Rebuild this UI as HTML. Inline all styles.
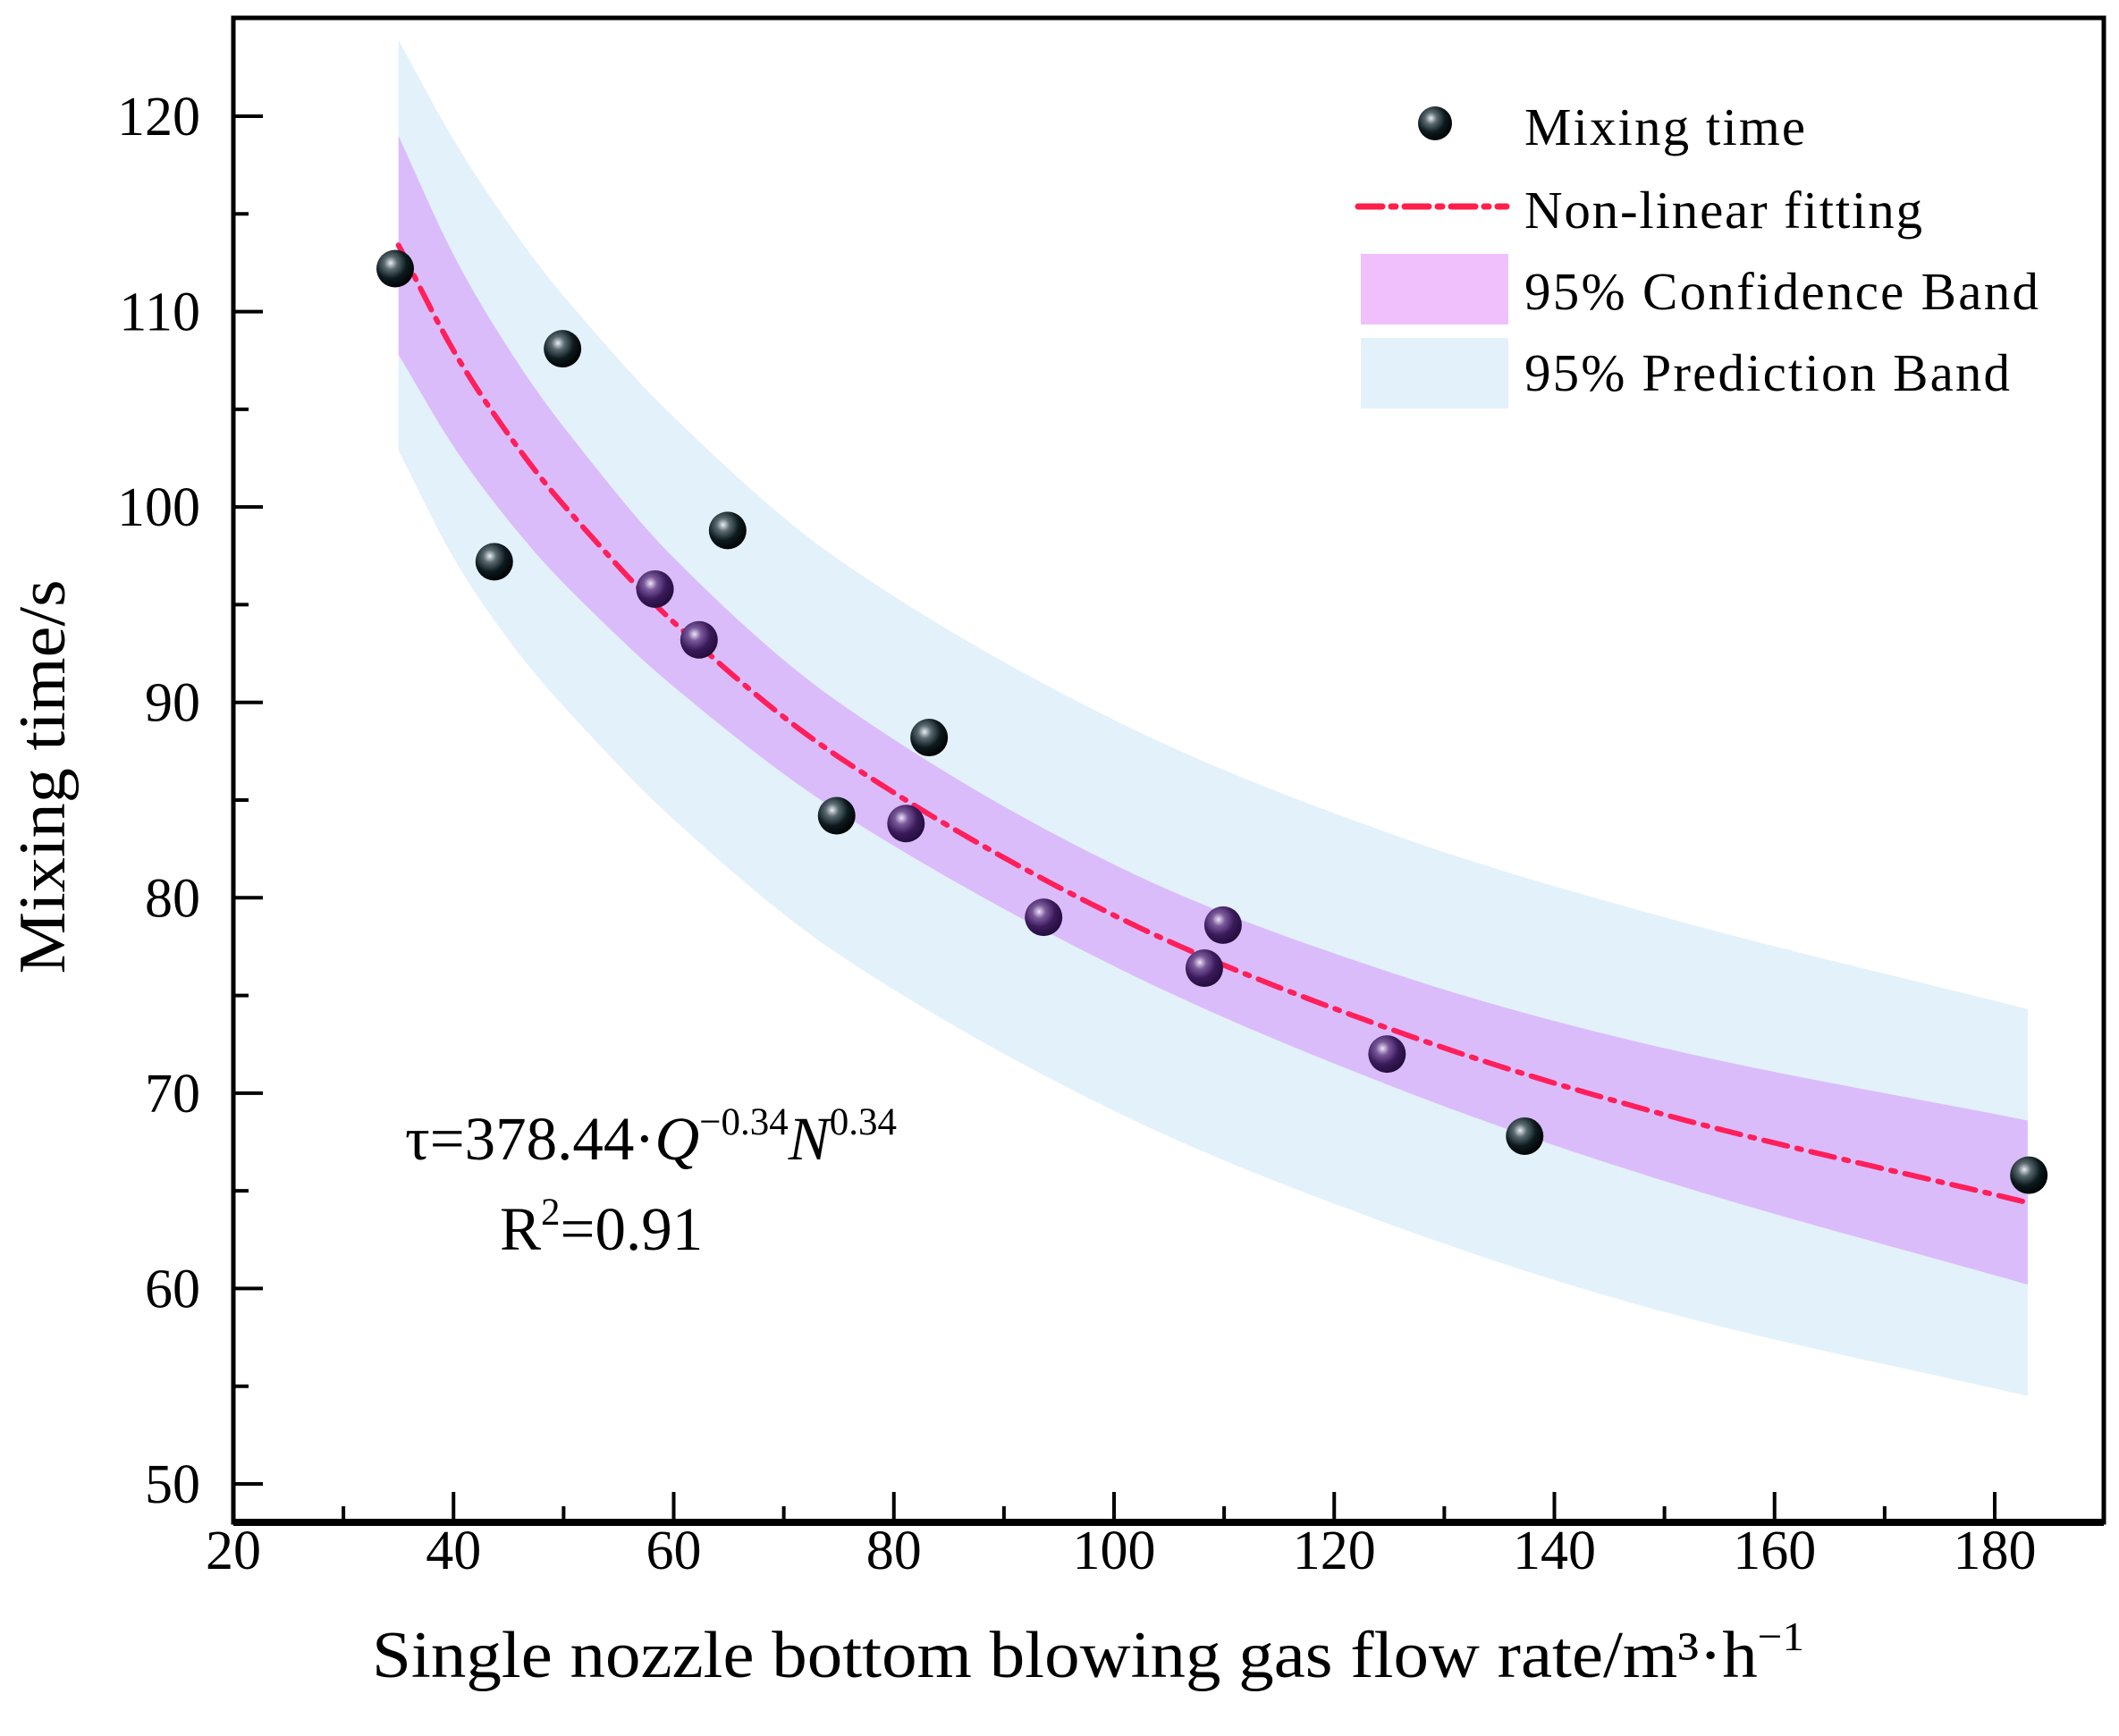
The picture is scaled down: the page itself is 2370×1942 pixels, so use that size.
<!DOCTYPE html>
<html><head><meta charset="utf-8"><style>
html,body{margin:0;padding:0;background:#fff;}
svg{display:block;font-family:"Liberation Serif",serif;}
</style></head><body>
<svg id="chart" width="2370" height="1942" viewBox="0 0 2370 1942" xmlns="http://www.w3.org/2000/svg">
<defs>
<radialGradient id="gBlack" cx="0.38" cy="0.35" r="0.7">
<stop offset="0" stop-color="#e8eef0"/><stop offset="0.25" stop-color="#5a6a70"/><stop offset="0.6" stop-color="#0c1a1e"/><stop offset="1" stop-color="#000"/>
</radialGradient>
<radialGradient id="gPurple" cx="0.38" cy="0.35" r="0.7">
<stop offset="0" stop-color="#eee4f8"/><stop offset="0.25" stop-color="#7a5a9a"/><stop offset="0.6" stop-color="#3a1a5a"/><stop offset="1" stop-color="#200c38"/>
</radialGradient>
</defs>
<g id="bands"></g>
<g id="fitg"></g>
<g id="points"></g>
<g id="axes"></g>
<g id="legend">
<circle cx="1605" cy="138" r="19" fill="url(#gBlack)"/>
<text x="1705" y="162" font-size="59" textLength="314">Mixing time</text>
<line x1="1519" y1="231" x2="1685" y2="231" stroke="#ff1f4a" stroke-width="7" stroke-dasharray="27,10,5,10" stroke-linecap="round"/>
<text x="1705" y="255" font-size="59" textLength="445">Non-linear fitting</text>
<rect x="1522" y="284" width="165" height="79" fill="#f0c0fc"/>
<text x="1705" y="346" font-size="59" textLength="575">95% Confidence Band</text>
<rect x="1522" y="378" width="165" height="79" fill="#e3f1fb"/>
<text x="1705" y="437" font-size="59" textLength="543">95% Prediction Band</text>
</g>
<text x="453" y="1297" font-size="69">τ=378.44·<tspan font-style="italic">Q</tspan><tspan font-size="43" dy="-28">−0.34</tspan><tspan font-style="italic" dy="28">N</tspan><tspan font-size="43" dy="-28">0.34</tspan></text>
<text x="559" y="1398" font-size="69">R<tspan font-size="43" dy="-28">2</tspan><tspan dy="28">=0.91</tspan></text>
<text x="0" y="0" font-size="74" textLength="441" lengthAdjust="spacingAndGlyphs" transform="translate(72,869) rotate(-90)" text-anchor="middle">Mixing time/s</text>
<text x="416" y="1876" font-size="74" textLength="1602" lengthAdjust="spacingAndGlyphs">Single nozzle bottom blowing gas flow rate/m³·h<tspan font-size="46" dy="-30">−1</tspan></text>
</svg>
<script>
const flowRates = [34.7, 43.7, 49.9, 58.3, 62.3, 64.9, 74.8, 81.1, 83.2, 93.6, 108.2, 109.9, 124.8, 137.3, 183.1];
const mixingTimes = [112.2, 97.2, 108.1, 95.8, 93.2, 98.8, 84.2, 83.8, 88.2, 79.0, 76.4, 78.6, 72.0, 67.8, 65.8];
const bandX = [35, 40, 45, 50, 60, 75, 100, 125, 150, 183];
const fitValues = [113.4, 108.0, 103.7, 100.1, 94.1, 87.2, 79.1, 73.3, 68.9, 64.4];
const confUpper = [119.0, 112.9, 108.1, 104.1, 97.4, 90.0, 81.7, 76.2, 72.3, 68.6];
const confLower = [107.8, 103.1, 99.3, 96.1, 90.8, 84.4, 76.5, 70.4, 65.5, 60.2];
const predUpper = [123.9, 118.8, 114.5, 110.8, 104.6, 97.3, 89.1, 83.3, 79.0, 74.3];
const predLower = [102.9, 97.4, 93.2, 89.8, 84.0, 77.1, 69.1, 63.3, 58.8, 54.5];
const xTicks = [20, 40, 60, 80, 100, 120, 140, 160, 180];
const yTicks = [50, 60, 70, 80, 90, 100, 110, 120];

const L = 261, T = 20, R = 2353, B = 1703;
function sx(v) { return 261 + (v - 20) * (2231 - 261) / 160; }
function sy(v) { return 1660 - (v - 50) * (1660 - 130) / 70; }
const NS = 'http://www.w3.org/2000/svg';
function mk(tag, attrs, parent) {
  const e = document.createElementNS(NS, tag);
  for (const k in attrs) e.setAttribute(k, attrs[k]);
  parent.appendChild(e);
  return e;
}
// monotone-ish smooth interpolation (Catmull-Rom, non-uniform aware)
function interp(xs, ys, x) {
  let i = 0;
  while (i < xs.length - 2 && x > xs[i + 1]) i++;
  const n = xs.length;
  const h = xs[i + 1] - xs[i];
  const slope = j => {
    if (j === 0) return (ys[1] - ys[0]) / (xs[1] - xs[0]);
    if (j === n - 1) return (ys[n - 1] - ys[n - 2]) / (xs[n - 1] - xs[n - 2]);
    return (ys[j + 1] - ys[j - 1]) / (xs[j + 1] - xs[j - 1]);
  };
  const m0 = slope(i) * h, m1 = slope(i + 1) * h;
  const t = (x - xs[i]) / h, t2 = t * t, t3 = t2 * t;
  return (2 * t3 - 3 * t2 + 1) * ys[i] + (t3 - 2 * t2 + t) * m0 + (-2 * t3 + 3 * t2) * ys[i + 1] + (t3 - t2) * m1;
}
function samples(ys) {
  const pts = [];
  const x0 = bandX[0], x1 = bandX[bandX.length - 1];
  for (let k = 0; k <= 200; k++) {
    const x = x0 + (x1 - x0) * k / 200;
    pts.push([sx(x), sy(interp(bandX, ys, x))]);
  }
  return pts;
}
function bandPath(up, lo) {
  const a = samples(up), b = samples(lo).reverse();
  return 'M' + a.concat(b).map(p => p[0].toFixed(1) + ',' + p[1].toFixed(1)).join(' L') + ' Z';
}
const bands = document.getElementById('bands');
const pb = mk('path', { d: bandPath(predUpper, predLower), fill: '#e3f1fb' }, bands);


const cb = mk('path', { d: bandPath(confUpper, confLower), fill: '#dbbcfb' }, bands);



const fl = mk('path', {
  d: 'M' + samples(fitValues).map(p => p[0].toFixed(1) + ',' + p[1].toFixed(1)).join(' L'),
  fill: 'none', stroke: '#ff1f5a', 'stroke-width': 6, 'stroke-dasharray': '27,11,5,11', 'stroke-linecap': 'round'
}, document.getElementById('fitg'));



const pg = document.getElementById('points');
flowRates.forEach((x, i) => {
  const y = mixingTimes[i];
  let inside = false;
  if (x >= bandX[0] && x <= bandX[bandX.length - 1]) {
    inside = y <= interp(bandX, confUpper, x) && y >= interp(bandX, confLower, x);
  }
  const c = mk('circle', { cx: sx(x), cy: sy(y), r: 21, fill: inside ? 'url(#gPurple)' : 'url(#gBlack)' }, pg);
  
  
});

const ax = document.getElementById('axes');
const frame = mk('rect', { x: L, y: T, width: R - L, height: B - T, fill: 'none', stroke: '#000', 'stroke-width': 5 }, ax);


const bl = mk('line', { x1: L, y1: B, x2: R, y2: B, stroke: '#000', 'stroke-width': 8 }, ax);


xTicks.forEach((v, i) => {
  const x = sx(v);
  const t = mk('line', { x1: x, y1: B, x2: x, y2: B - 34, stroke: '#000', 'stroke-width': 4 }, ax);
  
  
  if (i < xTicks.length - 1) {
    const xm = sx(v + 10);
    const m = mk('line', { x1: xm, y1: B, x2: xm, y2: B - 18, stroke: '#000', 'stroke-width': 4 }, ax);
    
    
  }
  const lb = mk('text', { x: x, y: 1755, 'font-size': 62, 'text-anchor': 'middle' }, ax);
  lb.textContent = v;
  
  
});
yTicks.forEach((v, i) => {
  const y = sy(v);
  const t = mk('line', { x1: L, y1: y, x2: L + 33, y2: y, stroke: '#000', 'stroke-width': 4 }, ax);
  
  
  if (i < yTicks.length - 1) {
    const ym = sy(v + 5);
    const m = mk('line', { x1: L, y1: ym, x2: L + 17, y2: ym, stroke: '#000', 'stroke-width': 4 }, ax);
    
    
  }
  const lb = mk('text', { x: 224, y: y + 21, 'font-size': 62, 'text-anchor': 'end' }, ax);
  lb.textContent = v;
  
  
});
</script>
</body></html>
